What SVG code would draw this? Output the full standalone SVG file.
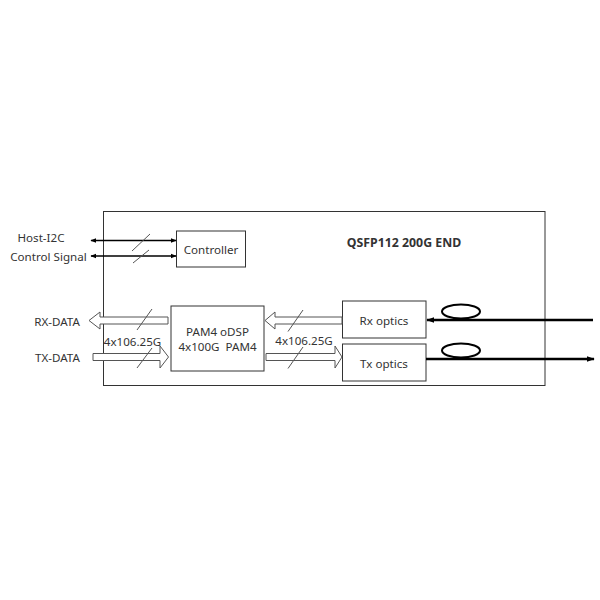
<svg xmlns="http://www.w3.org/2000/svg" width="600" height="600" viewBox="0 0 600 600">
<defs>
<style>
.box{fill:#fff;stroke:#333;stroke-width:1}
.t{font-family:"Noto Sans","Liberation Sans",sans-serif;font-size:11.6px;fill:#333;text-anchor:middle;dominant-baseline:central}
.sl{stroke:#555;stroke-width:1;fill:none}
.ctl{stroke:#000;stroke-width:1.5;fill:none}
.fib{stroke:#000;stroke-width:2.5;fill:none}
.hol{fill:#fff;stroke:#555;stroke-width:1}
</style>
<marker id="ah" viewBox="0 0 10 10" refX="9" refY="5" markerWidth="6" markerHeight="6" orient="auto-start-reverse" markerUnits="userSpaceOnUse">
<path d="M0,1 L10,5 L0,9 z" fill="#000"/>
</marker>
<marker id="fa" viewBox="0 0 10 10" refX="9" refY="5" markerWidth="8" markerHeight="8" orient="auto" markerUnits="userSpaceOnUse">
<path d="M0,1.5 L10,5 L0,8.5 z" fill="#000"/>
</marker>
</defs>
<rect width="600" height="600" fill="#fff"/>
<g id="module">
<rect class="box" x="103.5" y="211.5" width="441.5" height="174"/>
<text class="t" x="404" y="242" style="font-weight:bold;font-size:12.3px">QSFP112 200G END</text>
</g>
<g id="controller">
<rect class="box" x="176.5" y="231" width="69" height="36"/>
<text class="t" x="211" y="249.5">Controller</text>
</g>
<g id="dsp">
<rect class="box" x="171" y="306" width="93" height="65"/>
<text class="t" x="217.5" y="331">PAM4 oDSP</text>
<text class="t" x="217.5" y="346" xml:space="preserve">4x100G  PAM4</text>
</g>
<g id="rx-optics">
<rect class="box" x="342.5" y="301" width="83.5" height="37"/>
<text class="t" x="384" y="320">Rx optics</text>
</g>
<g id="tx-optics">
<rect class="box" x="342.5" y="344" width="83.5" height="37"/>
<text class="t" x="384" y="363">Tx optics</text>
</g>
<g id="labels">
<text class="t" x="41" y="237">Host-I2C</text>
<text class="t" x="48.5" y="256">Control Signal</text>
<text class="t" x="57" y="321">RX-DATA</text>
<text class="t" x="57.5" y="357">TX-DATA</text>
<text class="t" x="132.5" y="341">4x106.25G</text>
<text class="t" x="304" y="340">4x106.25G</text>
</g>
<g id="connectors">
<line class="ctl" x1="91" y1="240.5" x2="176" y2="240.5" marker-start="url(#ah)" marker-end="url(#ah)"/>
<line class="ctl" x1="91" y1="256" x2="176" y2="256" marker-start="url(#ah)" marker-end="url(#ah)"/>
<line class="sl" x1="132" y1="251" x2="150" y2="234"/>
<line class="sl" x1="133" y1="263" x2="149" y2="250"/>
<path class="hol" d="M168,317 L100,317 L100,312 L89,320.5 L100,329 L100,324 L168,324 z"/>
<path class="hol" d="M93,353.5 L160,353.5 L160,346 L168.5,357 L160,368 L160,360.5 L93,360.5 z"/>
<line class="sl" x1="137" y1="330" x2="152" y2="309"/>
<line class="sl" x1="137" y1="368" x2="152" y2="348"/>
<path class="hol" d="M342,317 L275,317 L275,312 L265,320.5 L275,329 L275,324 L342,324 z"/>
<path class="hol" d="M266,353.5 L335,353.5 L335,346 L342,357 L335,368 L335,360.5 L266,360.5 z"/>
<line class="sl" x1="288" y1="331.5" x2="303" y2="310"/>
<line class="sl" x1="288" y1="368.5" x2="303" y2="347"/>
<line class="fib" x1="593" y1="320" x2="427" y2="320" marker-end="url(#fa)"/>
<line class="fib" x1="426" y1="359" x2="594" y2="359" marker-end="url(#fa)"/>
<ellipse cx="461" cy="311.5" rx="19" ry="7" fill="none" stroke="#000" stroke-width="2"/>
<ellipse cx="461" cy="350.5" rx="19" ry="7" fill="none" stroke="#000" stroke-width="2"/>
</g>
</svg>
